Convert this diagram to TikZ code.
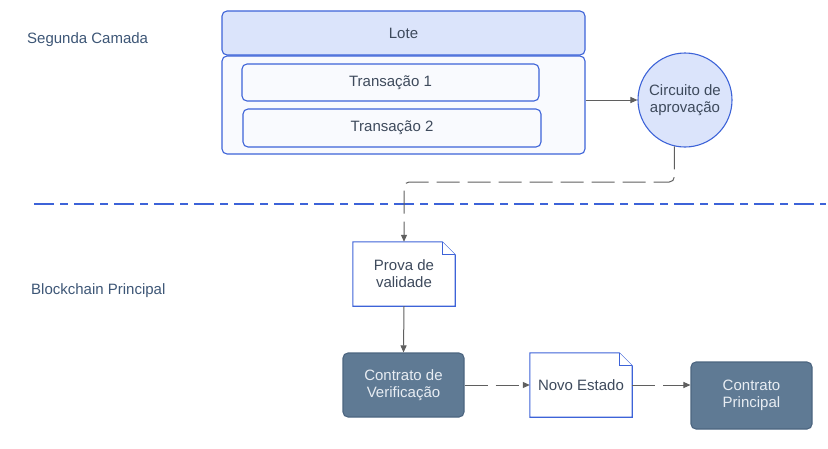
\documentclass[tikz,border=0pt]{standalone}
\usepackage{fontspec}
\setmainfont{Liberation Sans}
\usetikzlibrary{arrows.meta,calc,shapes.geometric}
\definecolor{bordblue}{RGB}{61,99,216}
\definecolor{lotefill}{RGB}{219,228,251}
\definecolor{palefill}{RGB}{249,250,254}
\definecolor{txt}{RGB}{62,74,92}
\definecolor{lbl}{RGB}{61,86,118}
\definecolor{darkfill}{RGB}{95,122,148}
\definecolor{darkbord}{RGB}{76,101,128}
\definecolor{darktxt}{RGB}{232,237,243}
\definecolor{conn}{RGB}{95,95,95}
\tikzset{
  x=1pt, y=-1pt,
  txtfont/.style={font=\fontsize{15}{17}\selectfont},
  bluebox/.style={draw=bordblue, line width=1.1pt, rounded corners=5pt, inner sep=0pt, txtfont, text=txt, align=center},
  darkbox/.style={draw=darkbord, fill=darkfill, line width=1.1pt, rounded corners=5pt, inner sep=0pt, txtfont, text=darktxt, align=center},
  docbox/.style={inner sep=0pt, txtfont, text=txt, align=center},
  docline/.style={draw=bordblue, fill=white, line width=1.1pt, line join=miter},
  conline/.style={draw=conn, line width=1pt},
  arrowtip/.style={-{Triangle[length=7pt,width=6pt]}},
  dashedcon/.style={dash pattern=on 23pt off 8pt},
  sidelabel/.style={font=\fontsize{15}{17}\selectfont, text=lbl, anchor=west, inner sep=0pt},
}
\begin{document}
\begin{tikzpicture}
\useasboundingbox (0,0) rectangle (828,448);

% labels
\node[sidelabel] (seg) at (27,40) {Segunda Camada};
\node[sidelabel] (blk) at (31,291) {Blockchain Principal};

% top boxes
\node[bluebox, fill=lotefill, minimum width=363pt, minimum height=44pt] (lote) at (403.5,33) {Lote};
\node[bluebox, fill=palefill, minimum width=363pt, minimum height=98pt] (cont) at (403.5,105) {};
\node[bluebox, fill=palefill, minimum width=297pt, minimum height=37pt] (t1) at (390.5,82.5) {Transação 1};
\node[bluebox, fill=palefill, minimum width=298pt, minimum height=38pt] (t2) at (392,128) {Transação 2};

% circle
\node[circle, draw=bordblue, fill=lotefill, line width=1.1pt, minimum size=94pt, inner sep=0pt, txtfont, text=txt, align=center] (circ) at (685,100) {Circuito de\\aprovação};

% documents
\node[docbox, minimum width=102pt, minimum height=64pt] (prova) at (404,274) {};
\draw[docline] (prova.north west) -- ($(prova.north east)+(-13,0)$) -- ($(prova.north east)+(0,13)$) -- (prova.south east) -- (prova.south west) -- cycle;
\draw[docline, line width=0.8pt] ($(prova.north east)+(-13,0)$) -- ($(prova.north east)+(-13,13)$) -- ($(prova.north east)+(0,13)$);
\node[docbox] at (prova.center) {Prova de\\validade};

\node[docbox, minimum width=102pt, minimum height=64pt] (ne) at (581,385) {};
\draw[docline] (ne.north west) -- ($(ne.north east)+(-13,0)$) -- ($(ne.north east)+(0,13)$) -- (ne.south east) -- (ne.south west) -- cycle;
\draw[docline, line width=0.8pt] ($(ne.north east)+(-13,0)$) -- ($(ne.north east)+(-13,13)$) -- ($(ne.north east)+(0,13)$);
\node[docbox] at (ne.center) {Novo Estado};

% dark boxes
\node[darkbox, minimum width=121pt, minimum height=64pt] (cv) at (403.5,385) {Contrato de\\Verificação};
\node[darkbox, minimum width=121pt, minimum height=67pt] (cp) at (751.5,395.5) {Contrato\\Principal};

% divider
\coordinate (dl) at (34,204);
\coordinate (dr) at (826,204);
\draw[draw=bordblue, line width=1.1pt, dash pattern=on 20pt off 6pt on 8pt off 6pt] (dl) -- (dr);

% connectors
\draw[conline, arrowtip] (cont.east |- circ.west) -- (circ.west);
\coordinate (bend) at (674,182);
\draw[conline, arrowtip, dashedcon, rounded corners=5pt] (circ.-103) -- (circ.-103 |- bend) -| (prova.north);
\draw[conline, arrowtip] (prova.south) -- (cv.north);
\draw[conline, arrowtip, dashedcon] (cv.east) -- (ne.west);
\draw[conline, arrowtip, dashedcon] (ne.east) -- (ne.east -| cp.west);
\end{tikzpicture}
\end{document}
